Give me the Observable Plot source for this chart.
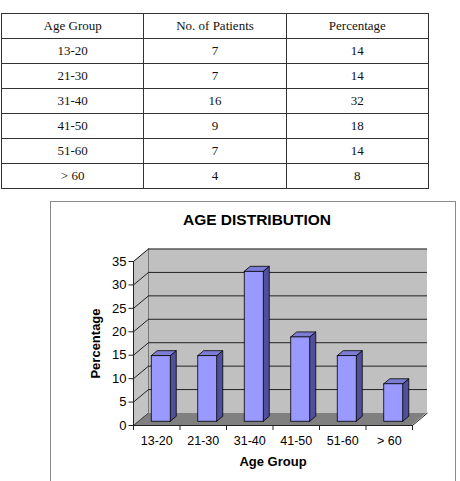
<!DOCTYPE html>
<html>
<head>
<meta charset="utf-8">
<script src="https://cdn.jsdelivr.net/npm/d3@7"></script>
<script src="https://cdn.jsdelivr.net/npm/@observablehq/plot@0.6"></script>
<style>
  html, body { margin: 0; padding: 0; background: #fff; }
  body { width: 460px; height: 481px; position: relative; overflow: hidden; }
  #tbl { position: absolute; left: 1px; top: 13px; border-collapse: collapse; width: 428px;
         font-family: "Liberation Serif", "Times New Roman", serif; font-size: 13px; color: #111; }
  #tbl td { border: 1.5px solid #333; height: 24px; padding: 0; text-align: center; width: 33.3%; }
  #box { position: absolute; left: 50px; top: 201px; width: 406px; height: 300px;
         border: 1px solid #8a8a8a; box-sizing: border-box; }
  #title { position: absolute; left: 157px; top: 211px; width: 200px; text-align: center;
           font-family: "Liberation Sans", Arial, sans-serif; font-weight: bold; font-size: 15.5px; line-height: 18px; color: #000; }
  #chart { position: absolute; left: 65px; top: 235px; }
</style>
</head>
<body>
<table id="tbl"></table>
<div id="box"></div>
<div id="title">AGE DISTRIBUTION</div>
<div id="chart"></div>
<script>
const headers = ["Age Group", "No. of Patients", "Percentage"];
const categories = ["13-20", "21-30", "31-40", "41-50", "51-60", "> 60"];
const patients = [7, 7, 16, 9, 7, 4];
const percentages = [14, 14, 32, 18, 14, 8];
const yTicks = [0, 5, 10, 15, 20, 25, 30, 35];

// table
const tbl = document.getElementById("tbl");
const hr = tbl.insertRow();
headers.forEach(h => { hr.insertCell().textContent = h; });
categories.forEach((c, i) => {
  const r = tbl.insertRow();
  r.insertCell().textContent = c;
  r.insertCell().textContent = patients[i];
  r.insertCell().textContent = percentages[i];
});

// chart
const W = 385, H = 243, ML = 68, MR = 38, MT = 26, MB = 53;
const n = categories.length;
const yMax = d3.max(yTicks);
const kx = (W - ML - MR) / n;      // px per x unit
const ky = (H - MT - MB) / yMax;   // px per y unit
const DX = 15 / kx, DY = 12.5 / ky;  // wall depth in data units
const BW = 19 / kx;                   // bar width
const BDX = 6 / kx, BDY = 5 / ky;     // bar depth
const bdx = 4.5, bdy = -3.75;         // bar depth offset (px)

const bars = categories.map((c, i) => ({
  c, v: percentages[i], L: i + 0.5 - BW / 2, R: i + 0.5 + BW / 2
}));
const topPts = bars.flatMap(b => [
  {c: b.c, y: b.v, x1: b.L, x2: b.R},
  {c: b.c, y: b.v + BDY, x1: b.L + BDX, x2: b.R + BDX}
]);
const sidePts = bars.flatMap(b => [
  {c: b.c, x: b.R, y1: 0, y2: b.v},
  {c: b.c, x: b.R + BDX, y1: BDY, y2: b.v + BDY}
]);

const plot = Plot.plot({
  width: W, height: H,
  marginLeft: ML, marginRight: MR, marginTop: MT, marginBottom: MB,
  style: {fontFamily: "'Liberation Sans', Arial, sans-serif", fontSize: "12px", color: "#000", background: "transparent", overflow: "visible"},
  x: {type: "linear", domain: [0, n], axis: null},
  y: {domain: [0, yMax], axis: null},
  marks: [
    // floor
    Plot.areaX([{y: 0, x1: 0, x2: n}, {y: DY, x1: DX, x2: n + DX}], {y: "y", x1: "x1", x2: "x2", fill: "#808080"}),
    // left wall
    Plot.areaY([{x: 0, y1: 0, y2: yMax}, {x: DX, y1: DY, y2: yMax + DY}], {x: "x", y1: "y1", y2: "y2", fill: "#c4c4c4"}),
    // back wall
    Plot.rect([0], {x1: DX, x2: n + DX, y1: DY, y2: yMax + DY, fill: "#c0c0c0"}),
    Plot.ruleX([DX], {y1: DY, y2: yMax + DY, stroke: "#777"}),
    // gridlines
    Plot.ruleY(yTicks.filter(v => v > 0), {y: v => v + DY, x1: DX, x2: n + DX, stroke: "#222"}),
    Plot.link(yTicks.filter(v => v > 0), {x1: 0, y1: v => v, x2: DX, y2: v => v + DY, stroke: "#222"}),
    // floor edges
    Plot.link([n], {x1: v => v, y1: 0, x2: v => v + DX, y2: DY, stroke: "#222"}),
    Plot.link([0], {x1: v => v, y1: 0, x2: v => v + DX, y2: DY, stroke: "#444"}),
    // axes lines and ticks
    Plot.ruleX([0], {y1: 0, y2: yMax, stroke: "#222"}),
    Plot.link(yTicks, {x1: 0, x2: -5 / kx, y1: v => v, y2: v => v, stroke: "#222"}),
    Plot.text(yTicks, {x: 0, y: v => v, dx: -7, text: v => String(v), textAnchor: "end", fontSize: 13}),
    Plot.ruleY([0], {x1: 0, x2: n, stroke: "#222"}),
    Plot.ruleX(d3.range(n + 1), {x: d => d, y1: 0, y2: -5 / ky, stroke: "#222"}),
    // bars
    Plot.areaY(sidePts, {x: "x", y1: "y1", y2: "y2", z: "c", fill: "#50509a", stroke: "#000", strokeWidth: 0.8, dx: bdx, dy: bdy}),
    Plot.areaX(topPts, {y: "y", x1: "x1", x2: "x2", z: "c", fill: "#7c7cd4", stroke: "#000", strokeWidth: 0.8, dx: bdx, dy: bdy}),
    Plot.rect(bars, {x1: "L", x2: "R", y1: 0, y2: "v", fill: "#9999ff", stroke: "#000", strokeWidth: 0.8, dx: bdx, dy: bdy}),
    // labels
    Plot.text(categories, {x: (d, i) => i + 0.5, y: 0, dy: 15, text: d => d, fontSize: 12.5}),
    Plot.text(["Age Group"], {x: n / 2, y: 0, dy: 36, text: d => d, fontSize: 13, fontWeight: "bold"}),
    Plot.text(["Percentage"], {x: -38 / kx, y: yMax / 2, text: d => d, rotate: -90, fontSize: 13, fontWeight: "bold"})
  ]
});
document.getElementById("chart").appendChild(plot);
</script>
</body>
</html>
